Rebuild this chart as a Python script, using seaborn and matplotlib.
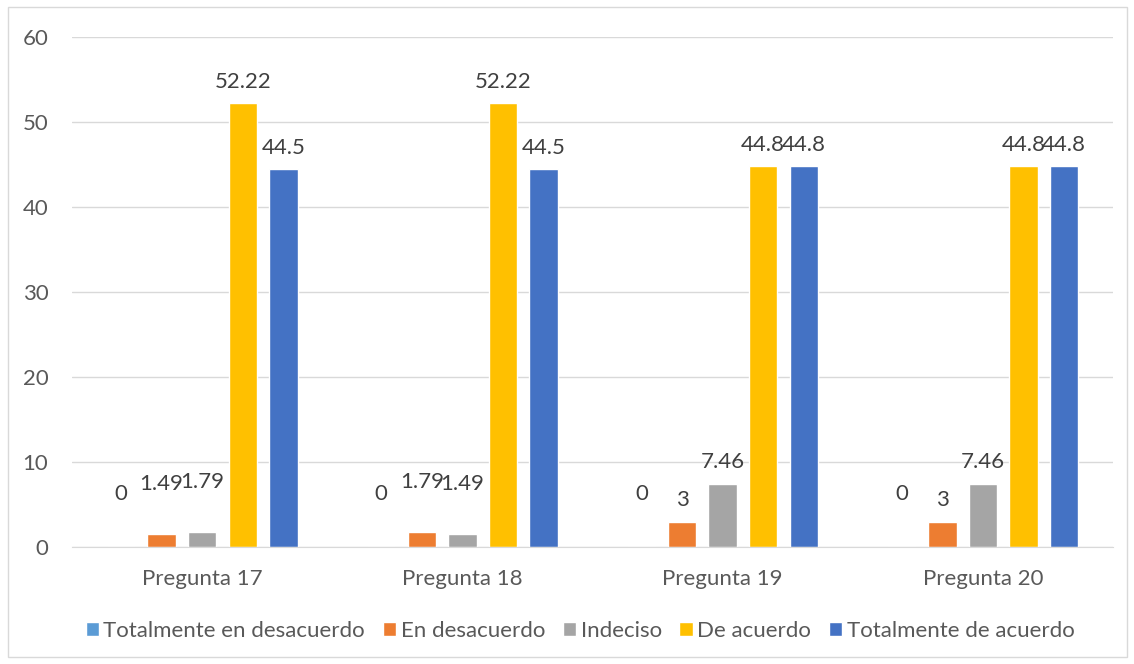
import pandas as pd
import matplotlib.pyplot as plt
import seaborn as sns
from matplotlib.patches import Rectangle

# Data
preguntas = ["Pregunta 17", "Pregunta 18", "Pregunta 19", "Pregunta 20"]
respuestas = ["Totalmente en desacuerdo", "En desacuerdo", "Indeciso",
              "De acuerdo", "Totalmente de acuerdo"]
tot_desacuerdo = [0, 0, 0, 0]
en_desacuerdo = [1.49, 1.79, 3, 3]
indeciso = [1.79, 1.49, 7.46, 7.46]
de_acuerdo = [52.22, 52.22, 44.8, 44.8]
tot_acuerdo = [44.5, 44.5, 44.8, 44.8]
colores = ["#5B9BD5", "#ED7D31", "#A5A5A5", "#FFC000", "#4472C4"]

series = [tot_desacuerdo, en_desacuerdo, indeciso, de_acuerdo, tot_acuerdo]
rows = []
for resp, vals in zip(respuestas, series):
    for p, v in zip(preguntas, vals):
        rows.append({"pregunta": p, "respuesta": resp, "valor": v})
df = pd.DataFrame(rows)

sns.set_style("white")
plt.rcParams['font.family'] = ['Lato', 'DejaVu Sans']
fs = 16

fig = plt.figure(figsize=(11.34, 6.64), dpi=100)
ax = fig.add_axes([0.0635, 0.1762, 0.918, 0.7681])

sns.barplot(data=df, x="pregunta", y="valor", hue="respuesta", palette=colores,
            width=0.78, gap=0.3, ax=ax, saturation=1)

# Data labels (Excel lifts the labels of the tiny bars a bit higher)
for cont, vals in zip(ax.containers, series):
    normal = [f"{v:g}" if v >= 2.5 else "" for v in vals]
    small = [f"{v:g}" if 0 < v < 2.5 else "" for v in vals]
    zero = [f"{v:g}" if v == 0 else "" for v in vals]
    ax.bar_label(cont, labels=normal, padding=8, fontsize=fs, color="#404040")
    ax.bar_label(cont, labels=small, padding=29, fontsize=fs, color="#404040")
    ax.bar_label(cont, labels=zero, padding=31, fontsize=fs, color="#404040")

ax.set_ylim(0, 60)
ax.set_yticks(range(0, 61, 10))
ax.set_xlim(-0.5, 3.5)
ax.yaxis.grid(True, color="#D9D9D9", linewidth=1)
ax.set_axisbelow(True)
for s in ["top", "left", "right"]:
    ax.spines[s].set_visible(False)
ax.spines["bottom"].set_color("#D9D9D9")
ax.tick_params(axis="both", length=0, labelsize=fs, labelcolor="#595959")
ax.tick_params(axis="x", pad=16)
ax.tick_params(axis="y", pad=17)
ax.set_xlabel("")
ax.set_ylabel("")

ax.legend(loc="center", bbox_to_anchor=(0.488, -0.165), ncol=5, frameon=False,
          fontsize=fs, handlelength=0.6, handleheight=0.6, handletextpad=0.2,
          columnspacing=0.8, labelcolor="#595959")

# Chart border
fig.patches.append(Rectangle((8 / 1134, 7 / 664), 1119 / 1134, 650 / 664,
                             transform=fig.transFigure, fill=False,
                             edgecolor="#D9D9D9", linewidth=1))

plt.savefig("out.png", dpi=100)
